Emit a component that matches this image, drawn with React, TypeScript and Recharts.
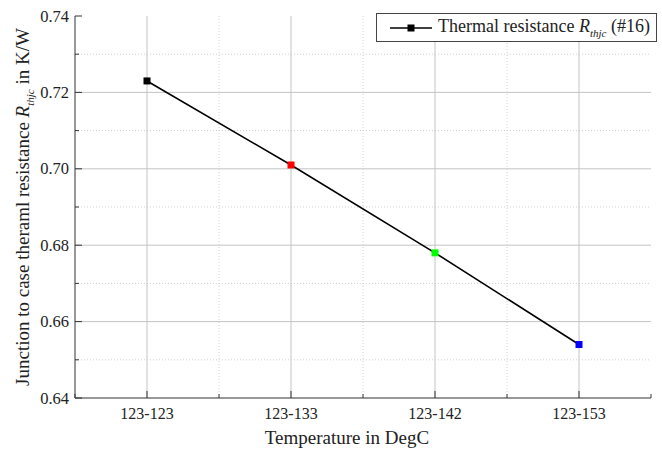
import React from 'react';
import { LineChart, Line, XAxis, YAxis, ReferenceLine } from 'recharts';

const categories = ['123-123', '123-133', '123-142', '123-153'];
const resistance = [0.723, 0.701, 0.678, 0.654];
const pointColors = ['#000000', '#ff0000', '#00ff00', '#0000ff'];
const xTicks = [-0.5, 0, 0.5, 1, 1.5, 2, 2.5, 3, 3.5];
const yTicks = [0.64, 0.65, 0.66, 0.67, 0.68, 0.69, 0.70, 0.71, 0.72, 0.73, 0.74];
const yMajorGrid = [0.66, 0.68, 0.70, 0.72];
const yMinorGrid = [0.65, 0.67, 0.69, 0.71, 0.73];
const xMajorGrid = [0, 1, 2, 3];
const xMinorGrid = [0.5, 1.5, 2.5];

const data = categories.map((c, i) => ({ idx: i, name: c, value: resistance[i] }));

const FONT = "'Liberation Serif', 'Times New Roman', serif";

const renderXTick = (props: any) => {
  const { x, y, payload } = props;
  const v = payload.value;
  const isMajor = Number.isInteger(v);
  return (
    <g key={`xt${v}`}>
      <line x1={x} x2={x} y1={y} y2={y - (isMajor ? 7 : 4)} stroke="#333" strokeWidth={1} />
      {isMajor && (
        <text x={x} y={y + 21} textAnchor="middle" style={{ fontFamily: FONT, fontSize: 16 }} fill="#222">
          {categories[v]}
        </text>
      )}
    </g>
  );
};

const renderYTick = (props: any) => {
  const { x, y, payload, index } = props;
  const isMajor = index % 2 === 0;
  return (
    <g key={`yt${index}`}>
      <line x1={x} x2={x + (isMajor ? 7 : 4)} y1={y} y2={y} stroke="#333" strokeWidth={1} />
      {isMajor && (
        <text x={x - 6} y={y + 5.5} textAnchor="end" style={{ fontFamily: FONT, fontSize: 16.5 }} fill="#222">
          {Number(payload.value).toFixed(2)}
        </text>
      )}
    </g>
  );
};

const SquareDot = (props: any) => {
  const { cx, cy, index } = props;
  if (cx == null || cy == null) return null;
  return <rect key={`d${index}`} x={cx - 3.5} y={cy - 3.5} width={7} height={7} fill={pointColors[index]} />;
};

const YLabel = (props: any) => {
  const vb = props.viewBox || {};
  const cy = vb.y + vb.height / 2;
  const cx = 29;
  return (
    <text
      x={cx}
      y={cy}
      transform={`rotate(-90, ${cx}, ${cy})`}
      textAnchor="middle"
      style={{ fontFamily: FONT, fontSize: 19 }}
      fill="#222"
    >
      <tspan>Junction to case theraml resistance </tspan>
      <tspan fontStyle="italic">R</tspan>
      <tspan fontStyle="italic" fontSize={11} dy={5}>thjc</tspan>
      <tspan dy={-5}> in K/W</tspan>
    </text>
  );
};

const XLabel = (props: any) => {
  const vb = props.viewBox || {};
  const cx = vb.x + vb.width / 2 - 16;
  return (
    <text x={cx} y={vb.y + 46} textAnchor="middle" style={{ fontFamily: FONT, fontSize: 19 }} fill="#222">
      Temperature in DegC
    </text>
  );
};

const LegendBox = () => (
  <div
    style={{
      position: 'absolute',
      left: 376,
      top: 13,
      border: '1px solid #444',
      height: 29,
      width: 281,
      boxSizing: 'border-box',
      display: 'flex',
      alignItems: 'center',
      fontFamily: FONT,
      fontSize: 18,
      color: '#222',
      background: '#fff',
      whiteSpace: 'nowrap',
    }}
  >
    <svg width={44} height={12} style={{ marginLeft: 13, marginRight: 4, flexShrink: 0 }}>
      <line x1={0} x2={42} y1={6} y2={6} stroke="#000" strokeWidth={1.5} />
      <rect x={17.5} y={2.5} width={7} height={7} fill="#000" />
    </svg>
    <span>
      Thermal resistance <i>R</i>
      <sub style={{ fontStyle: 'italic', fontSize: 11 }}>thjc</sub> (#16)
    </span>
  </div>
);

export default function App() {
  return (
    <div style={{ position: 'absolute', left: 0, top: 0, width: 662, height: 454, background: '#fff' }}>
      <LineChart
        width={662}
        height={454}
        data={data}
        margin={{ top: 16, right: 11, bottom: 0, left: 0 }}
      >
        {yMinorGrid.map((v) => (
          <ReferenceLine key={`ym${v}`} y={v} stroke="#d0d0d0" strokeDasharray="1 2" />
        ))}
        {xMinorGrid.map((v) => (
          <ReferenceLine key={`xm${v}`} x={v} stroke="#d0d0d0" strokeDasharray="1 2" />
        ))}
        {yMajorGrid.map((v) => (
          <ReferenceLine key={`yM${v}`} y={v} stroke="#c4c4c4" strokeWidth={1} />
        ))}
        {xMajorGrid.map((v) => (
          <ReferenceLine key={`xM${v}`} x={v} stroke="#c4c4c4" strokeWidth={1} />
        ))}
        <XAxis
          dataKey="idx"
          type="number"
          domain={[-0.5, 3.5]}
          ticks={xTicks}
          interval={0}
          allowDecimals
          height={56}
          tick={renderXTick}
          tickLine={false}
          tickSize={0}
          tickMargin={0}
          axisLine={{ stroke: '#333', strokeWidth: 1 }}
          label={<XLabel />}
        />
        <YAxis
          type="number"
          domain={[0.64, 0.74]}
          ticks={yTicks}
          interval={0}
          width={75}
          tick={renderYTick}
          tickLine={false}
          tickSize={0}
          tickMargin={0}
          axisLine={{ stroke: '#333', strokeWidth: 1 }}
          label={<YLabel />}
        />
        <Line
          type="linear"
          dataKey="value"
          stroke="#000"
          strokeWidth={1.6}
          dot={<SquareDot />}
          activeDot={false}
          isAnimationActive={false}
        />
      </LineChart>
      <LegendBox />
    </div>
  );
}
